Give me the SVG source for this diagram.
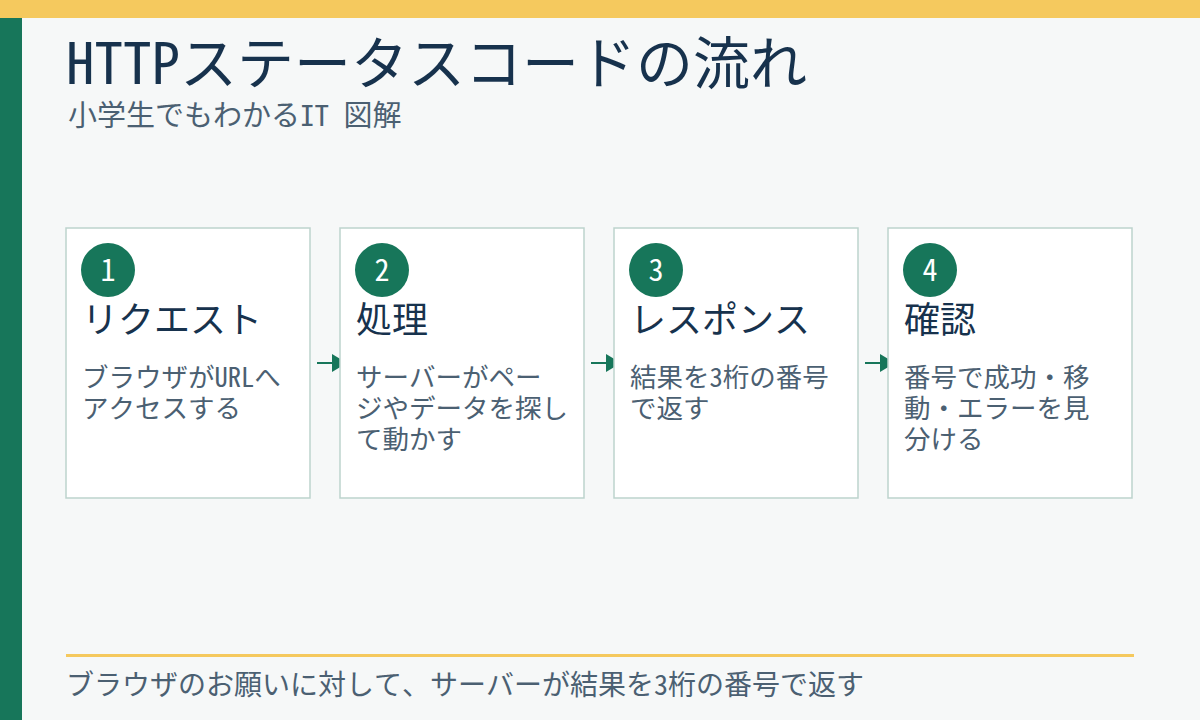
<svg xmlns="http://www.w3.org/2000/svg" width="1200" height="720" viewBox="0 0 1200 720">
<defs>
<style>
text{font-family:"Noto Sans Mono CJK JP","Noto Sans CJK JP",monospace}
.title{font-size:57px;fill:#17324d}
.sub{font-size:29px;fill:#4b6072}
.card{fill:#ffffff;stroke:#bdd3cd;stroke-width:1.5}
.badge{fill:#17765a}
.num{font-size:30px;fill:#ffffff;text-anchor:middle}
.head{font-size:36px;fill:#17324d}
.body{font-size:26.5px;fill:#4b6072}
.foot{font-size:28px;fill:#4b6072}
.conn{stroke:#17765a;stroke-width:2;fill:none}
</style>
<marker id="arr" markerWidth="16" markerHeight="18" refX="2" refY="9" orient="auto" markerUnits="userSpaceOnUse">
<path d="M0,0 L15,9 L0,18 Z" fill="#17765a"/>
</marker>
</defs>
<rect width="1200" height="720" fill="#f6f8f8"/>
<rect x="0" y="0" width="1200" height="18" fill="#f5c95e"/>
<rect x="0" y="18" width="22" height="702" fill="#17765a"/>
<text class="title" x="66" y="84">HTTPステータスコードの流れ</text>
<text class="sub" x="68" y="126">小学生でもわかるIT 図解</text>
<g id="connectors">
<line class="conn" x1="317" y1="363" x2="334" y2="363" marker-end="url(#arr)"/>
<line class="conn" x1="591" y1="363" x2="608" y2="363" marker-end="url(#arr)"/>
<line class="conn" x1="865" y1="363" x2="882" y2="363" marker-end="url(#arr)"/>
</g>
<g id="step1">
<rect class="card" x="66" y="228" width="244" height="270"/>
<circle class="badge" cx="108" cy="270" r="27"/>
<text class="num" x="108" y="281">1</text>
<text class="head" x="82" y="333">リクエスト</text>
<text class="body" x="82" y="387">ブラウザがURLへ</text>
<text class="body" x="82" y="418">アクセスする</text>
</g>
<g id="step2">
<rect class="card" x="340" y="228" width="244" height="270"/>
<circle class="badge" cx="382" cy="270" r="27"/>
<text class="num" x="382" y="281">2</text>
<text class="head" x="356" y="333">処理</text>
<text class="body" x="356" y="387">サーバーがペー</text>
<text class="body" x="356" y="418">ジやデータを探し</text>
<text class="body" x="356" y="449">て動かす</text>
</g>
<g id="step3">
<rect class="card" x="614" y="228" width="244" height="270"/>
<circle class="badge" cx="656" cy="270" r="27"/>
<text class="num" x="656" y="281">3</text>
<text class="head" x="630" y="333">レスポンス</text>
<text class="body" x="630" y="387">結果を3桁の番号</text>
<text class="body" x="630" y="418">で返す</text>
</g>
<g id="step4">
<rect class="card" x="888" y="228" width="244" height="270"/>
<circle class="badge" cx="930" cy="270" r="27"/>
<text class="num" x="930" y="281">4</text>
<text class="head" x="904" y="333">確認</text>
<text class="body" x="904" y="387">番号で成功・移</text>
<text class="body" x="904" y="418">動・エラーを見</text>
<text class="body" x="904" y="449">分ける</text>
</g>
<rect x="66" y="654" width="1068" height="3" fill="#f5c95e"/>
<text class="foot" x="66" y="695">ブラウザのお願いに対して、サーバーが結果を3桁の番号で返す</text>
</svg>
